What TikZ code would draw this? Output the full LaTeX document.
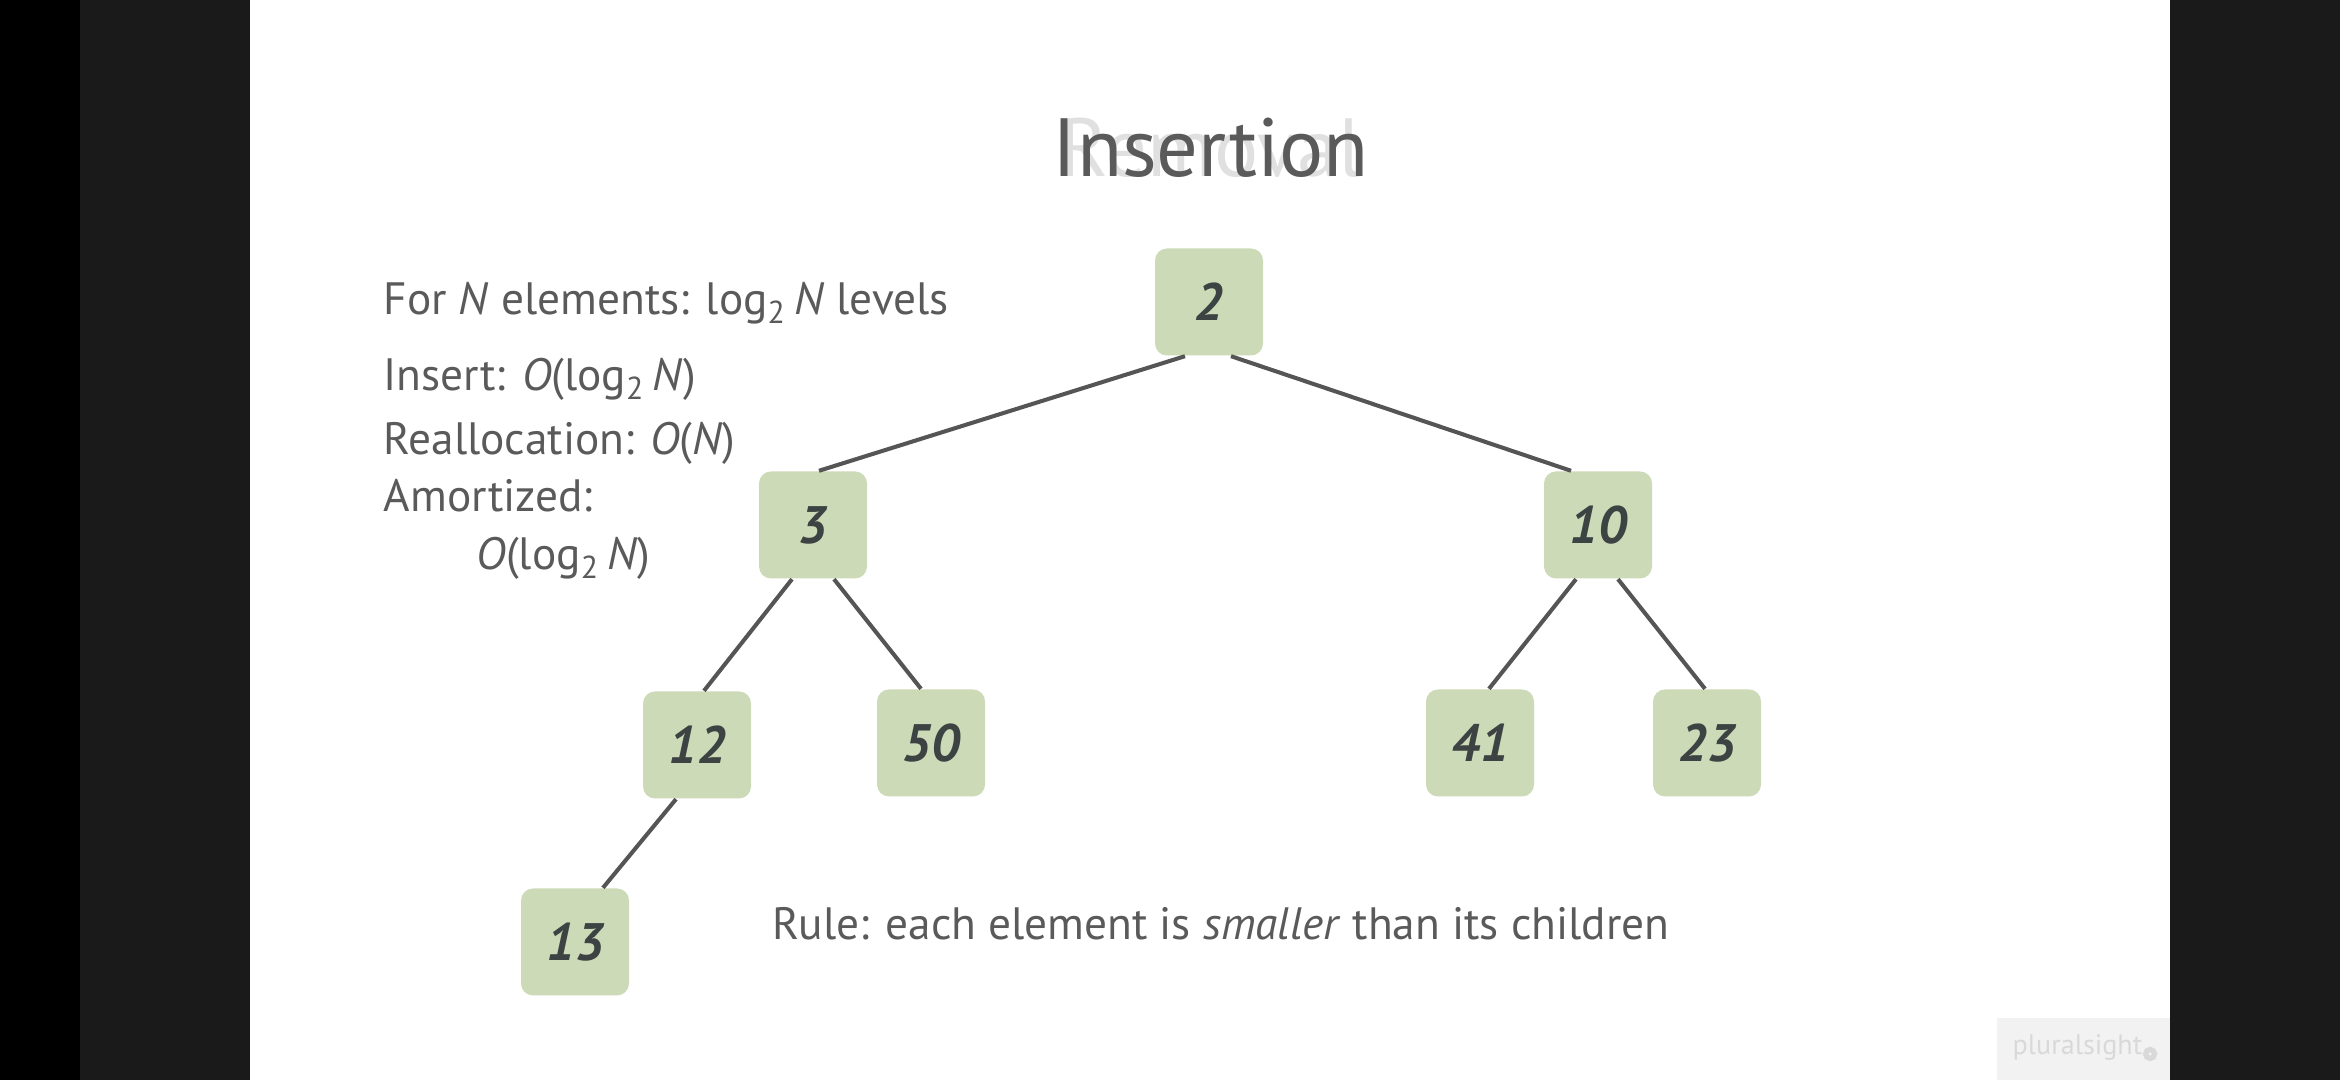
\documentclass[tikz,border=0pt]{standalone}
\usepackage{fontspec}
\setmainfont{PT Sans}
\usepackage{tikz}
\usetikzlibrary{positioning, calc}
\usepackage{xcolor}
\definecolor{frameblack}{HTML}{1A1A1A}
\definecolor{nodegreen}{HTML}{CDDAB7}
\definecolor{numgray}{HTML}{3D4242}
\definecolor{textgray}{HTML}{5A5A5A}
\definecolor{edgegray}{HTML}{555555}
\definecolor{ghostgray}{HTML}{E0E0E0}
\newcommand{\logtwo}{log\textsubscript{2}\,}
\tikzset{
  heapnode/.style={rectangle, rounded corners=0.12cm, fill=nodegreen, minimum width=1.08cm, minimum height=1.07cm, inner sep=0pt, text=numgray, font=\fontsize{15}{15}\selectfont\bfseries\itshape},
  heapedge/.style={draw=edgegray, line width=1.15pt},
  infotext/.style={anchor=base west, inner sep=0pt, text=textgray, font=\fontsize{12.9}{14}\selectfont}
}

\begin{document}
\begin{tikzpicture}
    % Cornice
    \useasboundingbox (0,0) rectangle (23.40,10.80);
    \fill[black] (0,0) rectangle (0.80,10.80);
    \fill[frameblack] (0.80,0) rectangle (2.50,10.80);
    \fill[white] (2.50,0) rectangle (21.70,10.80);
    \fill[frameblack] (21.70,0) rectangle (23.40,10.80);

    % Titolo
    \node[anchor=base, inner sep=0pt, text=ghostgray, font=\fontsize{23.5}{24}\selectfont] (ghost) at (12.11,9.03) {Removal};
    \node[anchor=base, inner sep=0pt, text=textgray, font=\fontsize{23.5}{24}\selectfont] (title) at (12.11,9.03) {Insertion};

    % Testo a sinistra
    \node[infotext] (levels) at (3.83,7.65) {For \textit{N} elements: \logtwo\textit{N} levels};
    \node[infotext] (insert) at (3.83,6.89) {Insert: \textit{O}(\logtwo\textit{N})};
    \node[infotext] (realloc) at (3.83,6.25) {Reallocation: \textit{O}(\textit{N})};
    \node[infotext] (amort) at (3.83,5.68) {Amortized:};
    \node[infotext] (amortval) at (4.76,5.10) {\textit{O}(\logtwo\textit{N})};

    % Nodi dello heap
    \node[heapnode] (n2) at (12.09,7.78) {2};
    \node[heapnode] (n3) at (8.13,5.55) {3};
    \node[heapnode] (n10) at (15.98,5.55) {10};
    \node[heapnode] (n12) at (6.97,3.35) {12};
    \node[heapnode] (n50) at (9.31,3.37) {50};
    \node[heapnode] (n41) at (14.80,3.37) {41};
    \node[heapnode] (n23) at (17.07,3.37) {23};
    \node[heapnode] (n13) at (5.75,1.38) {13};

    % Archi
    \draw[heapedge] ([xshift=-0.24cm]n2.south) -- ([xshift=0.06cm]n3.north);
    \draw[heapedge] ([xshift=0.22cm]n2.south) -- ([xshift=-0.27cm]n10.north);
    \draw[heapedge] ([xshift=-0.21cm]n3.south) -- ([xshift=0.07cm]n12.north);
    \draw[heapedge] ([xshift=0.21cm]n3.south) -- ([xshift=-0.10cm]n50.north);
    \draw[heapedge] ([xshift=-0.22cm]n10.south) -- ([xshift=0.09cm]n41.north);
    \draw[heapedge] ([xshift=0.20cm]n10.south) -- ([xshift=-0.02cm]n23.north);
    \draw[heapedge] ([xshift=-0.21cm]n12.south) -- ([xshift=0.28cm]n13.north);

    % Regola
    \node[infotext] (rule) at (7.715,1.40) {Rule: each element is \textit{smaller} than its children};

    % Logo
    \fill[black!5] (19.97,0) rectangle (21.70,0.62);
    \node[anchor=base west, inner sep=0pt, text=black!15, font=\fontsize{8}{8}\selectfont] (logo) at (20.12,0.25) {pluralsight};
    \draw[black!15, line width=1.5pt] ([xshift=0.07cm,yshift=0.01cm]logo.base east) circle (0.045);
\end{tikzpicture}
\end{document}
